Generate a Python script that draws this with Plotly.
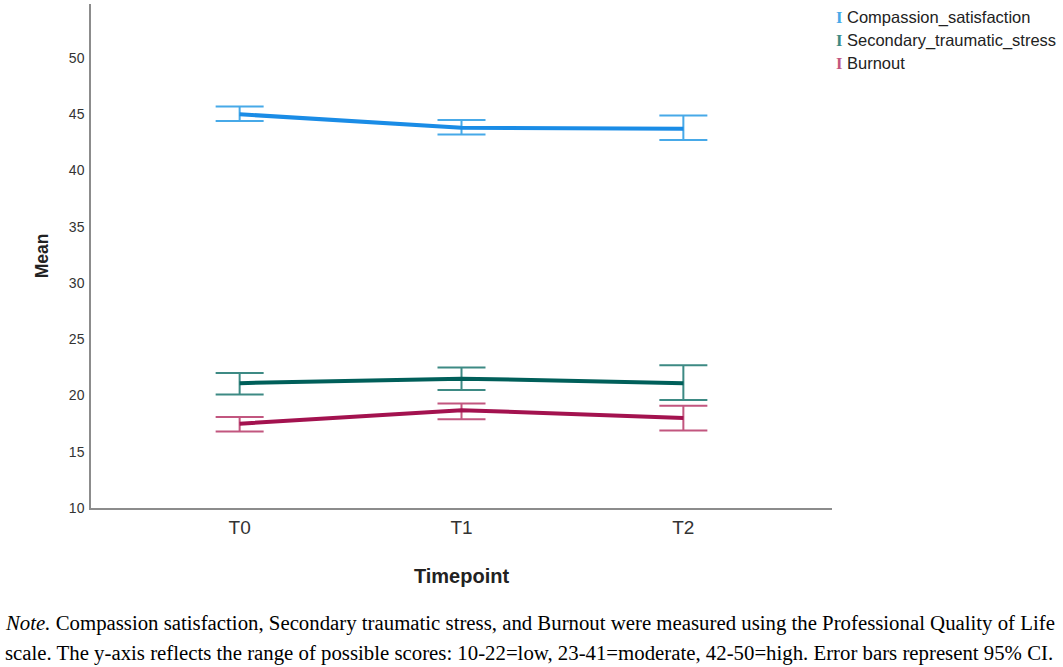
import plotly.graph_objects as go

timepoints = ['T0', 'T1', 'T2']

series_names = ['Compassion_satisfaction', 'Secondary_traumatic_stress', 'Burnout']

compassion_mean = [45.0, 43.8, 43.7]
compassion_lo = [44.4, 43.2, 42.7]
compassion_hi = [45.7, 44.5, 44.9]

secondary_mean = [21.1, 21.5, 21.1]
secondary_lo = [20.1, 20.5, 19.6]
secondary_hi = [22.0, 22.5, 22.7]

burnout_mean = [17.5, 18.7, 18.0]
burnout_lo = [16.8, 17.9, 16.9]
burnout_hi = [18.1, 19.3, 19.1]

line_colors = ['#1a8ce6', '#005f5a', '#a3124f']
bar_colors = ['#47a9e8', '#3d8a84', '#c2567f']

means = [compassion_mean, secondary_mean, burnout_mean]
los = [compassion_lo, secondary_lo, burnout_lo]
his = [compassion_hi, secondary_hi, burnout_hi]

SANS = 'Liberation Sans'

fig = go.Figure()
for name, m, lo, hi, lc, bc in zip(series_names, means, los, his, line_colors, bar_colors):
    fig.add_trace(go.Scatter(
        x=timepoints, y=m,
        mode='lines',
        name=name,
        showlegend=False,
        line=dict(color=lc, width=4),
        error_y=dict(
            type='data', symmetric=False,
            array=[h - v for h, v in zip(hi, m)],
            arrayminus=[v - l for v, l in zip(m, lo)],
            color=bc, thickness=2, width=24,
        ),
    ))

# legend drawn as text so the I-beam glyph matches
legend_y = [0.974, 0.927, 0.881]
for name, bc, ly in zip(series_names, bar_colors, legend_y):
    fig.add_annotation(
        xref='paper', yref='paper', x=1.003, y=ly,
        xanchor='left', yanchor='middle', showarrow=False,
        text=f"<span style='color:{bc};font-family:Liberation Serif;font-weight:bold'>I</span> {name}",
        font=dict(family=SANS, size=16.5, color='#222222'),
    )

note_font = dict(family='Liberation Serif', size=20.8, color='#000000')
fig.add_annotation(
    xref='paper', yref='paper', x=-0.1188, y=-0.228,
    xanchor='left', yanchor='middle', showarrow=False,
    text='<i>Note.</i> Compassion satisfaction, Secondary traumatic stress, and Burnout were measured using the Professional Quality of Life',
    font=note_font,
)
fig.add_annotation(
    xref='paper', yref='paper', x=-0.1188, y=-0.288,
    xanchor='left', yanchor='middle', showarrow=False,
    text='scale. The y-axis reflects the range of possible scores: 10-22=low, 23-41=moderate, 42-50=high. Error bars represent 95% CI.',
    font=note_font,
)

fig.update_layout(
    width=1063, height=667,
    margin=dict(l=91, r=231, t=4, b=159),
    paper_bgcolor='white', plot_bgcolor='white',
    font=dict(family=SANS, size=14, color='#333333'),
)
fig.update_xaxes(
    range=[-0.67, 2.67],
    showline=True, linecolor='#8c8c8c', linewidth=1.5,
    showgrid=False, zeroline=False, ticks='',
    ticklabelstandoff=1,
    tickfont=dict(family=SANS, size=19, color='#333333'),
    title=dict(text='<b>Timepoint</b>', font=dict(family=SANS, size=20, color='#222222'), standoff=32),
)
fig.update_yaxes(
    range=[10, 54.8],
    tickvals=[10, 15, 20, 25, 30, 35, 40, 45, 50],
    showline=True, linecolor='#8c8c8c', linewidth=1.5,
    showgrid=False, zeroline=False, ticks='',
    ticklabelstandoff=2,
    tickfont=dict(family=SANS, size=14, color='#333333'),
    title=dict(text='<b>Mean</b>', font=dict(family=SANS, size=17.5, color='#222222'), standoff=16),
)

# drop the page's default body margin so the figure fills the window
fig.write_html('out.html', config={'displayModeBar': False},
               post_script="document.body.style.margin='0';")
